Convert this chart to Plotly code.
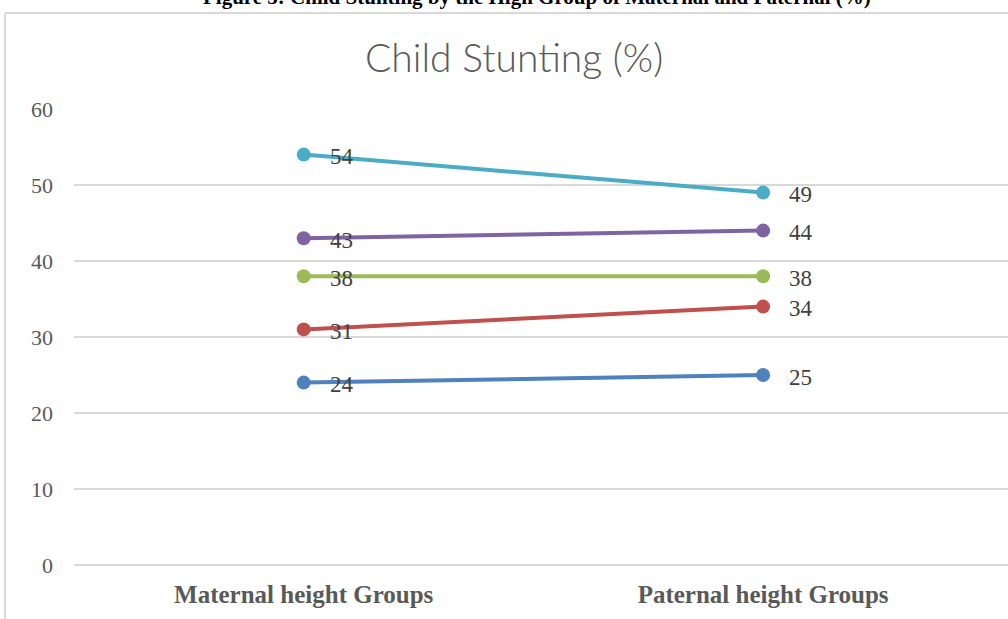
import plotly.graph_objects as go

# Chart data
categories = ["Maternal height Groups", "Paternal height Groups"]
series_names = ["Group 1", "Group 2", "Group 3", "Group 4", "Group 5"]
series_values = [
    [24, 25],
    [31, 34],
    [38, 38],
    [43, 44],
    [54, 49],
]
series_colors = ["#4F81BD", "#C0504D", "#9BBB59", "#8064A2", "#4BACC6"]
y_ticks = [0, 10, 20, 30, 40, 50, 60]

W, H = 1008, 619
L, R, T, B = 74, 0, 109, 54

fig = go.Figure()
label_annotations = []
for name, vals, color in zip(series_names, series_values, series_colors):
    fig.add_trace(go.Scatter(
        x=categories, y=vals, name=name,
        mode="lines+markers",
        line=dict(color=color, width=4),
        marker=dict(color=color, size=14),
        hoverinfo="x+y",
    ))
    # value labels to the right of each point
    for cat, v in zip(categories, vals):
        label_annotations.append(dict(
            x=cat, y=v, xref="x", yref="y", text=str(v),
            showarrow=False, xanchor="left", yanchor="middle",
            xshift=24, yshift=-2,
            font=dict(family="Liberation Serif, DejaVu Serif, serif", size=23, color="#404040"),
        ))

pw = W - L - R
ph = H - T - B

def px_x(px):
    return (px - L) / pw

def px_y(py):
    return (H - B - py) / ph

fig.update_layout(
    width=W, height=H,
    margin=dict(l=L, r=R, t=T, b=B),
    paper_bgcolor="white", plot_bgcolor="white",
    showlegend=False,
    xaxis=dict(
        type="category", range=[-0.5, 1.533],
        showgrid=False, zeroline=False, showline=False, ticks="",
        tickfont=dict(family="Liberation Serif, serif", size=25, color="#595959", weight="bold"),
        ticklabelstandoff=12,
    ),
    yaxis=dict(
        range=[0, 60], tickvals=y_ticks,
        showgrid=True, gridcolor="#D9D9D9", gridwidth=1.5,
        zeroline=True, zerolinecolor="#D9D9D9", zerolinewidth=1.5,
        showline=False, ticks="",
        tickfont=dict(family="Liberation Serif, DejaVu Serif, serif", size=22, color="#595959"),
        ticklabelstandoff=20,
    ),
    shapes=[
        # chart frame (left and top edges)
        dict(type="line", xref="paper", yref="paper",
             x0=px_x(5), x1=px_x(5), y0=px_y(13), y1=px_y(H + 5),
             line=dict(color="#D9D9D9", width=2)),
        dict(type="line", xref="paper", yref="paper",
             x0=px_x(5), x1=px_x(W + 5), y0=px_y(13), y1=px_y(13),
             line=dict(color="#D9D9D9", width=2)),
    ],
    annotations=label_annotations + [
        dict(text="Child Stunting (%)", xref="paper", yref="paper",
             x=px_x(514), y=px_y(57), xanchor="center", yanchor="middle",
             showarrow=False,
             font=dict(family="Lato, Roboto, sans-serif", size=39, color="#595959", weight=300)),
        dict(text="<b>Figure 5: Child Stunting by the High Group of Maternal and Paternal (%)</b>",
             xref="paper", yref="paper",
             x=px_x(537), y=px_y(-3), xanchor="center", yanchor="middle",
             showarrow=False,
             font=dict(family="Liberation Serif, serif", size=21, color="black")),
    ],
)

fig.write_html("out.html")
